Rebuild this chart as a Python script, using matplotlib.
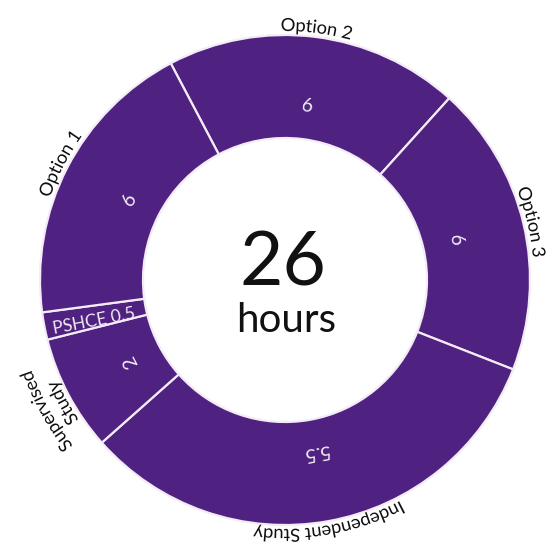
import numpy as np
import matplotlib
matplotlib.use("Agg")
import matplotlib.pyplot as plt
from matplotlib.font_manager import FontProperties
from matplotlib.textpath import TextPath
from matplotlib.patches import PathPatch
from matplotlib.path import Path

# segments, clockwise from the top
categories = ["Option 2", "Option 3", "Independent Study", "Supervised\nStudy", "PSHCE", "Option 1"]
hour_labels = ["6", "6", "5.5", "2", "PSHCE 0.5", "6"]
# arc size of each segment as drawn (degrees)
arc_sizes = [69.9, 69.3, 117.0, 27.5, 6.5, 69.8]
total_hours = "26"

START_ANGLE = 117.8
PURPLE = "#4f2180"
LINE = "#f3ecf6"
FONT = "Lato"

W, H = 548, 553
CX, CY = 285, H - 280
R_OUT, R_IN = 245, 142

fig = plt.figure(figsize=(W / 100, H / 100), dpi=100)
ax = fig.add_axes([0, 0, 1, 1])

ax.pie(arc_sizes, startangle=START_ANGLE, counterclock=False,
       colors=[PURPLE] * len(arc_sizes), center=(CX, CY), radius=R_OUT,
       wedgeprops=dict(width=R_OUT - R_IN, edgecolor=LINE, linewidth=1.6))
ax.set_xlim(0, W)
ax.set_ylim(0, H)
ax.set_aspect("equal")
ax.axis("off")

prop = FontProperties(family=FONT)


def curved_text(s, r, mid_deg, size, color="#111111"):
    # bend the glyph outlines onto an arc, reading clockwise, baseline at radius r
    tp = TextPath((0, 0), s, size=size * 100 / 72, prop=prop)
    v = tp.vertices
    bb = tp.get_extents()
    xc = (bb.x0 + bb.x1) / 2
    th = np.radians(mid_deg) - (v[:, 0] - xc) / r
    rad = r + v[:, 1]
    verts = np.column_stack([CX + rad * np.cos(th), CY + rad * np.sin(th)])
    ax.add_patch(PathPatch(Path(verts, tp.codes), facecolor=color, lw=0))


# mid angle of each wedge
mids = []
a = START_ANGLE
for s in arc_sizes:
    mids.append(a - s / 2)
    a -= s

for name, lab, mid in zip(categories, hour_labels, mids):
    th = np.radians(mid)
    if name == "PSHCE":
        rr = 195
        ax.text(CX + rr * np.cos(th + 0.025), CY + rr * np.sin(th + 0.025), lab, fontsize=12.5,
                family=FONT, color=LINE, ha="center", va="center",
                rotation=mid + 180, rotation_mode="anchor")
        continue
    rr = 175
    ax.text(CX + rr * np.cos(th), CY + rr * np.sin(th), lab, fontsize=14, family=FONT,
            color=LINE, ha="center", va="center", rotation=mid - 90, rotation_mode="anchor")
    # outside label
    lines = name.split("\n")
    for k, line in enumerate(reversed(lines)):
        curved_text(line, 249 + k * 20, mid + 1.0 * (len(lines) > 1), 13)

ax.text(CX - 2, H - 285, total_hours, fontsize=54, family=FONT,
        ha="center", va="baseline", color="#111111")
ax.text(CX + 1, H - 332, "hours", fontsize=29, family=FONT,
        ha="center", va="baseline", color="#111111")

fig.savefig("out.png", dpi=100, facecolor="white")
